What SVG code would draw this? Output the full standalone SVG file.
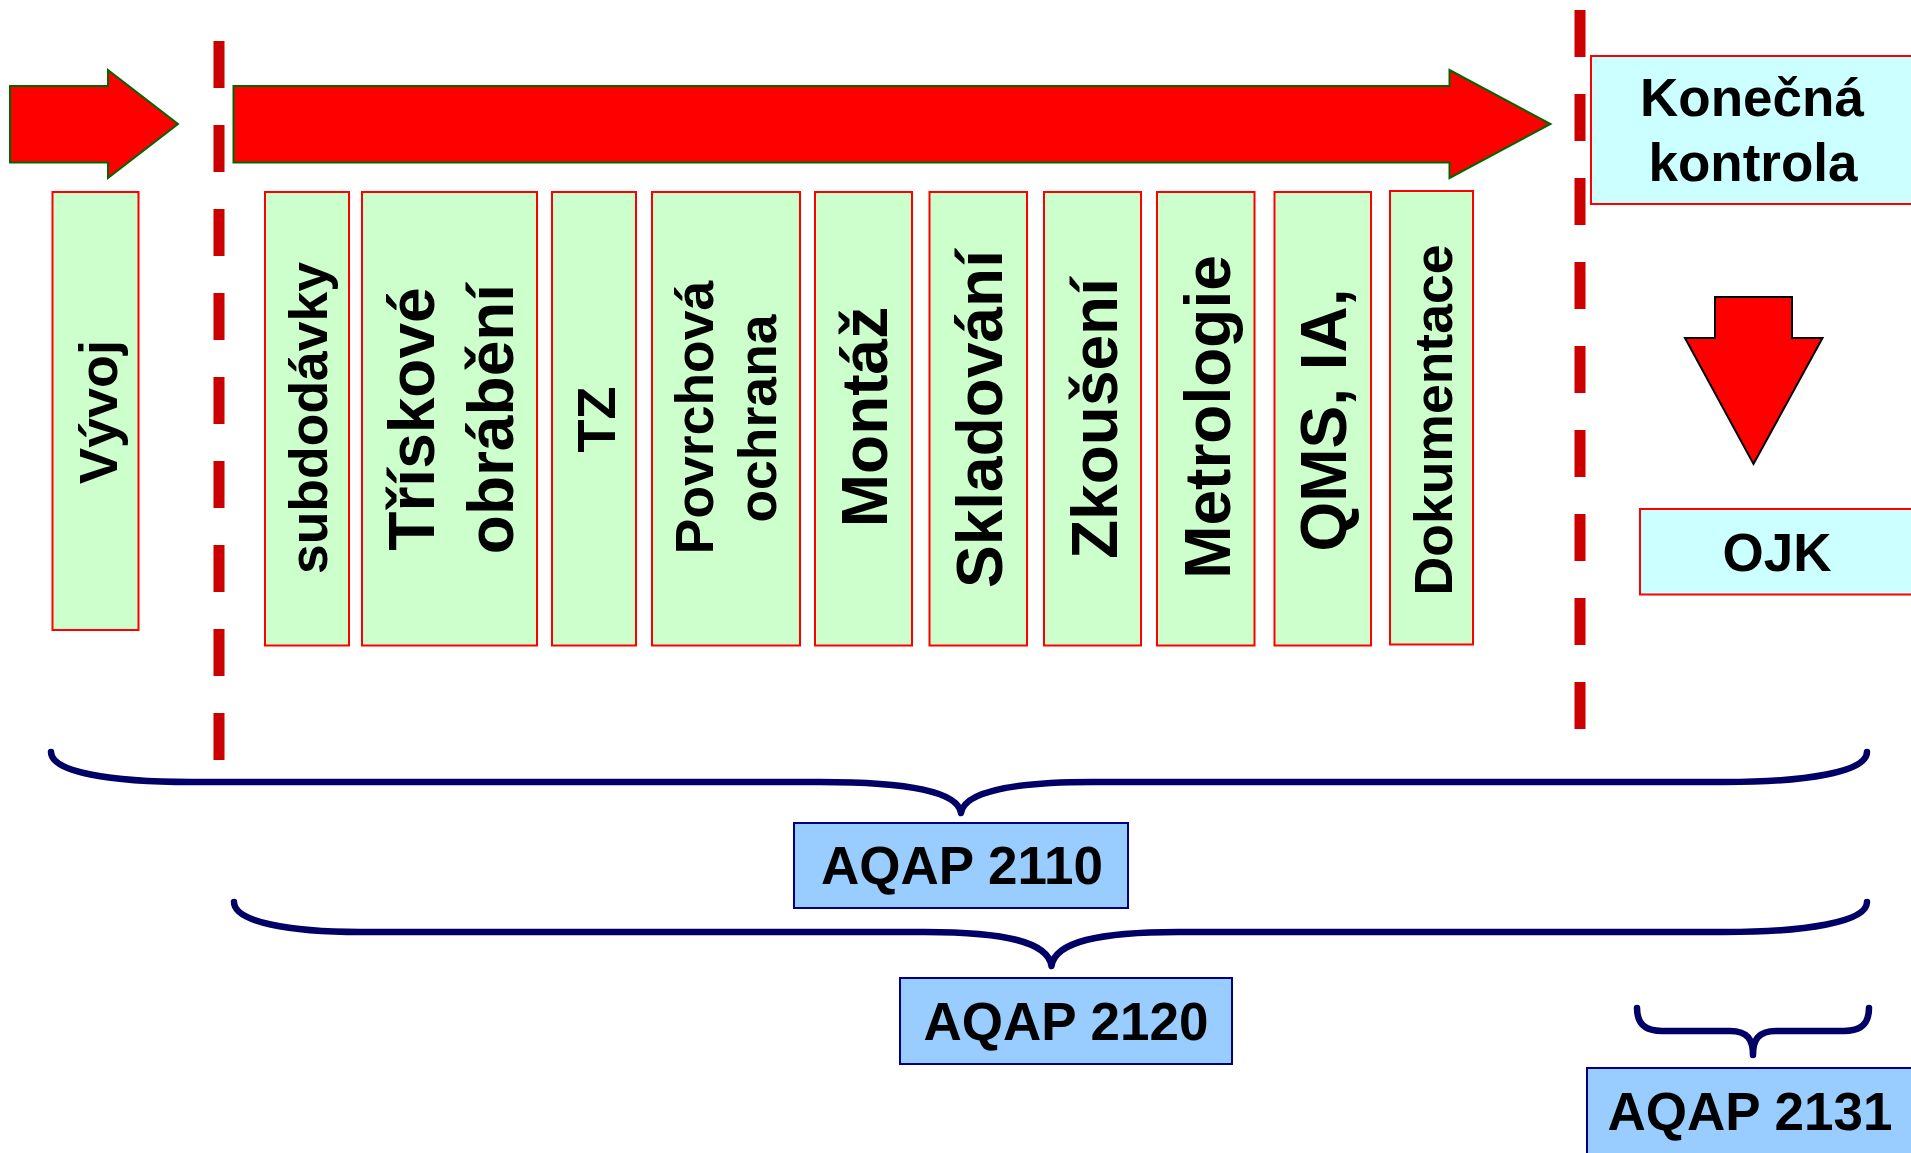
<svg xmlns="http://www.w3.org/2000/svg" width="1911" height="1153" viewBox="0 0 1911 1153">
<style>
text{font-family:"Liberation Sans",Arial,sans-serif;font-weight:bold;fill:#000;text-anchor:middle}
.g{fill:#CCFFCC;stroke:#FF0000;stroke-width:2}
.c{fill:#CCFFFF;stroke:#FF0000;stroke-width:2}
.b{fill:#99CCFF;stroke:#000080;stroke-width:2}
.arr{fill:#FF0000;stroke:#006600;stroke-width:2}
.dash{stroke:#CC0000;stroke-width:11;stroke-dasharray:47 37;fill:none}
.brace{fill:none;stroke:#000066;stroke-width:6.5;stroke-linecap:round;stroke-linejoin:round}
.s52{font-size:53.5px}.s54{font-size:54px}.s64{font-size:64px}.s53{font-size:53px}
</style>
<rect width="1911" height="1153" fill="#FFFFFF"/>
<g id="connectors">
<polygon id="arrow-left" class="arr" points="10,86 108,86 108,70 178,124 108,178 108,162.5 10,162.5"/>
<polygon id="arrow-main" class="arr" points="233.5,86 1449.5,86 1449.5,70 1550.5,124 1449.5,178 1449.5,162.5 233.5,162.5"/>
<polygon id="arrow-down" fill="#FF0000" stroke="#000" stroke-width="2" points="1715,297 1792,297 1792,338 1822.5,338 1753.5,464 1685,338 1715,338"/>
<line class="dash" x1="219" y1="41" x2="219" y2="760"/>
<line class="dash" x1="1580" y1="10" x2="1580" y2="730"/>
<path class="brace" d="M51,752 C51,772 110,782 191,782 L820,782 C910,782 958,792 961,813 C964,792 1012,782 1093,782 L1725,782 C1806,782 1867,772 1867,752"/>
<path class="brace" d="M234,902 C234,922 290,932 360,932 L925,932 C1005,932 1048,942 1051.5,966 C1055,942 1098,932 1178,932 L1725,932 C1806,932 1867,922 1867,902"/>
<path class="brace" d="M1637,1008 C1637,1024 1645,1031 1662,1031 L1730,1031 C1748,1031 1753,1040 1753,1055 C1753,1040 1758,1031 1776,1031 L1844,1031 C1861,1031 1869,1024 1869,1008"/>
</g>
<g id="vyvoj"><rect class="g" x="52.5" y="192" width="86" height="438"/><text class="s54" transform="translate(117,412) rotate(-90)">Vývoj</text></g>
<g id="subdodavky"><rect class="g" x="265" y="192" width="84" height="453.5"/><text class="s52" transform="translate(327,418) rotate(-90)">subdodávky</text></g>
<g id="triskove"><rect class="g" x="362" y="192" width="175" height="453.5"/><text class="s64" transform="translate(434,419) rotate(-90)">Třískové</text><text class="s64" transform="translate(513,419) rotate(-90)">obrábění</text></g>
<g id="tz"><rect class="g" x="552" y="192" width="84" height="453.5"/><text class="s54" transform="translate(615,419.5) rotate(-90)">TZ</text></g>
<g id="povrchova"><rect class="g" x="652" y="192" width="148" height="453.5"/><text class="s52" transform="translate(713,417.5) rotate(-90)">Povrchová</text><text class="s52" transform="translate(776,418.5) rotate(-90)">ochrana</text></g>
<g id="montaz"><rect class="g" x="815" y="192" width="97" height="453.5"/><text class="s64" transform="translate(887,417) rotate(-90)">Montáž</text></g>
<g id="skladovani"><rect class="g" x="929.5" y="192" width="97.5" height="453.5"/><text class="s64" transform="translate(1002,419) rotate(-90)">Skladování</text></g>
<g id="zkouseni"><rect class="g" x="1044" y="192" width="97" height="453.5"/><text class="s64" transform="translate(1117,418.5) rotate(-90)">Zkoušení</text></g>
<g id="metrologie"><rect class="g" x="1157" y="192" width="97.5" height="453.5"/><text class="s64" transform="translate(1230,417) rotate(-90)">Metrologie</text></g>
<g id="qms"><rect class="g" x="1274.5" y="192" width="96.5" height="453.5"/><text class="s64" transform="translate(1346,420) rotate(-90)">QMS, IA,</text></g>
<g id="dokumentace"><rect class="g" x="1390" y="191" width="83" height="453.5"/><text class="s52" transform="translate(1452,420) rotate(-90)">Dokumentace</text></g>
<g id="konecna"><rect class="c" x="1591" y="56" width="322" height="148"/><text class="s53" x="1752" y="116">Konečná</text><text class="s53" x="1753" y="181">kontrola</text></g>
<g id="ojk"><rect class="c" x="1640" y="509" width="275" height="85.5"/><text class="s53" x="1777" y="571">OJK</text></g>
<g id="aqap2110"><rect class="b" x="794" y="823" width="334" height="85"/><text class="s53" x="962" y="884">AQAP 2110</text></g>
<g id="aqap2120"><rect class="b" x="900" y="978" width="332" height="86"/><text class="s53" x="1066" y="1040">AQAP 2120</text></g>
<g id="aqap2131"><rect class="b" x="1587" y="1068" width="326" height="90"/><text class="s53" x="1750" y="1130">AQAP 2131</text></g>
</svg>
